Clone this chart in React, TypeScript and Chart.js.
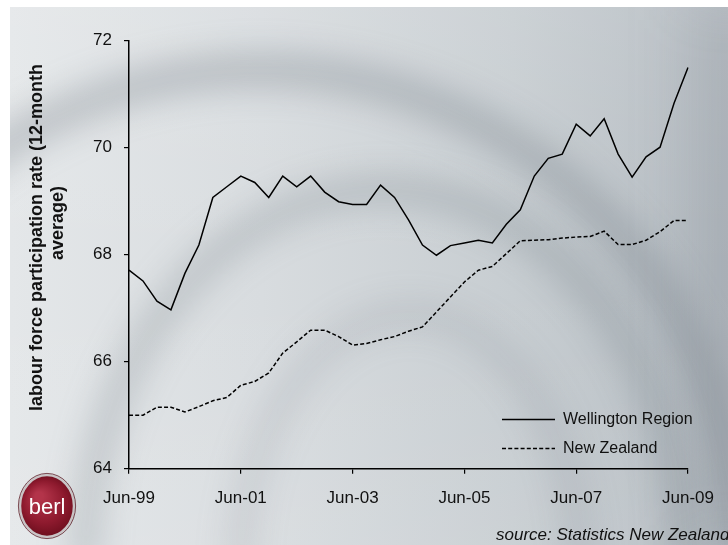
import React, { useEffect, useRef } from "react";
import { Chart, registerables } from "chart.js";

Chart.register(...registerables);

// Quarterly periods, June 1999 to June 2009
const quarters = [
  "Jun-99", "Sep-99", "Dec-99",
  "Mar-00", "Jun-00", "Sep-00", "Dec-00",
  "Mar-01", "Jun-01", "Sep-01", "Dec-01",
  "Mar-02", "Jun-02", "Sep-02", "Dec-02",
  "Mar-03", "Jun-03", "Sep-03", "Dec-03",
  "Mar-04", "Jun-04", "Sep-04", "Dec-04",
  "Mar-05", "Jun-05", "Sep-05", "Dec-05",
  "Mar-06", "Jun-06", "Sep-06", "Dec-06",
  "Mar-07", "Jun-07", "Sep-07", "Dec-07",
  "Mar-08", "Jun-08", "Sep-08", "Dec-08",
  "Mar-09", "Jun-09",
];

// Labelled x-axis ticks
const shownTicks = ["Jun-99", "Jun-01", "Jun-03", "Jun-05", "Jun-07", "Jun-09"];

// Labour force participation rate, 12-month average (%)
const wellington = [
  67.71, 67.51, 67.13, 66.97, 67.65, 68.18, 69.07, 69.27, 69.47, 69.35,
  69.07, 69.47, 69.27, 69.47, 69.17, 68.99, 68.94, 68.94, 69.30, 69.07,
  68.65, 68.18, 67.99, 68.17, 68.22, 68.27, 68.22, 68.57, 68.84, 69.47,
  69.80, 69.88, 70.44, 70.22, 70.54, 69.88, 69.45, 69.83, 70.01, 70.83,
  71.50,
];

const newZealand = [
  65.00, 65.00, 65.15, 65.15, 65.06, 65.16, 65.27, 65.33, 65.56, 65.63,
  65.79, 66.16, 66.37, 66.59, 66.59, 66.47, 66.31, 66.34, 66.41, 66.47,
  66.57, 66.65, 66.93, 67.21, 67.49, 67.71, 67.78, 68.02, 68.26, 68.27,
  68.28, 68.31, 68.33, 68.34, 68.44, 68.19, 68.19, 68.27, 68.43, 68.64,
  68.64,
];

const yTicks = [64, 66, 68, 70, 72];

const seriesNames = ["Wellington Region", "New Zealand"];
const yTitle = ["labour force participation rate (12-month", "average)"];
const sourceNote = "source: Statistics New Zealand";
const logoText = "berl";

const FONT = "'Liberation Sans', Arial, Helvetica, sans-serif";
const W = 728;
const H = 545;

// Slide backdrop: grey wash with soft concentric swirls
const backdrop = {
  id: "backdrop",
  beforeDraw(chart: any) {
    const ctx = chart.ctx as CanvasRenderingContext2D;
    ctx.save();
    ctx.fillStyle = "#ffffff";
    ctx.fillRect(0, 0, W, H);

    ctx.beginPath();
    ctx.rect(10, 7, W - 10, H - 7);
    ctx.clip();

    const g = ctx.createLinearGradient(10, 0, W, 0);
    g.addColorStop(0, "#e4e7e9");
    g.addColorStop(0.35, "#d8dcdf");
    g.addColorStop(0.7, "#c7cdd1");
    g.addColorStop(1, "#b3bac0");
    ctx.fillStyle = g;
    ctx.fillRect(0, 0, W, H);

    const gv = ctx.createLinearGradient(0, 0, 0, H);
    gv.addColorStop(0, "rgba(255,255,255,0.10)");
    gv.addColorStop(0.5, "rgba(255,255,255,0)");
    gv.addColorStop(1, "rgba(255,255,255,0.08)");
    ctx.fillStyle = gv;
    ctx.fillRect(0, 0, W, H);

    ctx.filter = "blur(16px)";
    ctx.strokeStyle = "rgba(105,114,124,0.32)";
    ctx.lineWidth = 34;
    ctx.beginPath();
    ctx.ellipse(260, 560, 480, 490, 0, Math.PI, 2 * Math.PI);
    ctx.stroke();

    ctx.strokeStyle = "rgba(105,114,124,0.26)";
    ctx.lineWidth = 30;
    ctx.beginPath();
    ctx.ellipse(385, 565, 300, 375, 0, Math.PI, 2 * Math.PI);
    ctx.stroke();

    ctx.strokeStyle = "rgba(105,114,124,0.16)";
    ctx.lineWidth = 26;
    ctx.beginPath();
    ctx.ellipse(410, 570, 170, 255, 0, Math.PI, 2 * Math.PI);
    ctx.stroke();

    ctx.filter = "blur(30px)";
    ctx.fillStyle = "rgba(110,118,126,0.18)";
    ctx.fillRect(690, 0, 80, H);
    ctx.filter = "none";
    ctx.restore();
  },
};

// Axis title, legend, logo and source line
const decorations = {
  id: "decorations",
  afterDraw(chart: any) {
    const ctx = chart.ctx as CanvasRenderingContext2D;
    ctx.save();

    // rotated y-axis title
    ctx.fillStyle = "#111";
    ctx.font = `bold 18px ${FONT}`;
    ctx.textAlign = "center";
    ctx.textBaseline = "middle";
    ctx.translate(37, 232);
    ctx.rotate(-Math.PI / 2);
    yTitle.forEach((line, i) => ctx.fillText(line, i === 0 ? -5.5 : 9, i * 21));
    ctx.setTransform(1, 0, 0, 1, 0, 0);

    // legend
    const rows = [419, 448];
    chart.data.datasets.forEach((ds: any, i: number) => {
      const y = rows[i];
      ctx.strokeStyle = ds.borderColor;
      ctx.lineWidth = ds.borderWidth;
      ctx.setLineDash(ds.borderDash || []);
      ctx.beginPath();
      ctx.moveTo(502, y + 0.5);
      ctx.lineTo(555, y + 0.5);
      ctx.stroke();
      ctx.setLineDash([]);
      ctx.fillStyle = "#111";
      ctx.font = `16px ${FONT}`;
      ctx.textAlign = "left";
      ctx.textBaseline = "middle";
      ctx.fillText(ds.label, 563, y + 1);
    });

    // source
    ctx.font = `italic 17px ${FONT}`;
    ctx.fillStyle = "#111";
    ctx.textAlign = "left";
    ctx.textBaseline = "middle";
    ctx.fillText(sourceNote, 496, 535);

    // logo badge
    const cx = 47, cy = 506, rx = 27, ry = 31;
    const rg = ctx.createRadialGradient(cx - 8, cy - 10, 4, cx, cy, 32);
    rg.addColorStop(0, "#b3344a");
    rg.addColorStop(0.6, "#8e1a2e");
    rg.addColorStop(1, "#6a0d1c");
    ctx.fillStyle = rg;
    ctx.beginPath();
    ctx.ellipse(cx, cy, rx, ry, 0, 0, 2 * Math.PI);
    ctx.fill();
    ctx.strokeStyle = "#c9c4c6";
    ctx.lineWidth = 2.5;
    ctx.stroke();
    ctx.strokeStyle = "rgba(80,10,20,0.7)";
    ctx.lineWidth = 1;
    ctx.beginPath();
    ctx.ellipse(cx, cy, rx + 1.6, ry + 1.6, 0, 0, 2 * Math.PI);
    ctx.stroke();
    ctx.fillStyle = "#ffffff";
    ctx.font = `22px ${FONT}`;
    ctx.textAlign = "center";
    ctx.textBaseline = "middle";
    ctx.fillText(logoText, cx, cy + 2);

    ctx.restore();
  },
};

export default function App() {
  const canvasRef = useRef<HTMLCanvasElement | null>(null);

  useEffect(() => {
    const canvas = canvasRef.current;
    if (!canvas) return;
    const chart = new Chart(canvas, {
      type: "line",
      data: {
        labels: quarters,
        datasets: [
          {
            label: seriesNames[0],
            data: wellington,
            borderColor: "#000000",
            borderWidth: 1.5,
            pointRadius: 0,
            tension: 0,
            fill: false,
          },
          {
            label: seriesNames[1],
            data: newZealand,
            borderColor: "#000000",
            borderWidth: 1.5,
            borderDash: [4, 2.2],
            pointRadius: 0,
            tension: 0,
            fill: false,
          },
        ],
      },
      options: {
        responsive: false,
        animation: false,
        devicePixelRatio: 1,
        layout: { padding: { left: 0, top: 40.7, right: 31.3, bottom: 0 } },
        plugins: {
          legend: { display: false },
          tooltip: { enabled: false },
          title: { display: false },
        },
        scales: {
          x: {
            type: "category",
            offset: false,
            afterFit(scale: any) {
              scale.height = 76.3;
            },
            border: { display: true, color: "#000", width: 1.5 },
            grid: {
              display: true,
              drawOnChartArea: false,
              drawTicks: true,
              tickLength: 5,
              color: "#000",
              lineWidth: 1.2,
            },
            ticks: {
              autoSkip: false,
              maxRotation: 0,
              minRotation: 0,
              padding: 14,
              color: "#111",
              font: { family: FONT, size: 17 },
              callback(value: any, index: number) {
                const lab = quarters[index];
                return shownTicks.includes(lab) ? lab : null;
              },
            },
          },
          y: {
            min: yTicks[0],
            max: yTicks[yTicks.length - 1],
            afterFit(scale: any) {
              scale.width = 129;
            },
            afterBuildTicks(scale: any) {
              scale.ticks = yTicks.map((v) => ({ value: v }));
            },
            border: { display: true, color: "#000", width: 1.5 },
            grid: {
              display: true,
              drawOnChartArea: false,
              drawTicks: true,
              tickLength: 5,
              color: "#000",
              lineWidth: 1.2,
            },
            ticks: {
              padding: 12,
              color: "#111",
              font: { family: FONT, size: 17 },
            },
          },
        },
      },
      plugins: [backdrop, decorations],
    });
    return () => chart.destroy();
  }, []);

  return (
    <div style={{ position: "fixed", left: 0, top: 0, width: W, height: H }}>
      <canvas ref={canvasRef} width={W} height={H} style={{ display: "block" }} />
    </div>
  );
}
